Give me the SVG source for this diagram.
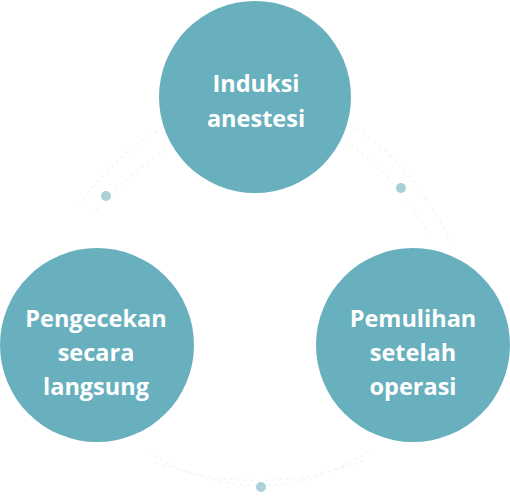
<svg xmlns="http://www.w3.org/2000/svg" width="510" height="503" viewBox="0 0 510 503">
<style>
.node{fill:#68b0be}
.lbl{fill:#ffffff;font-family:"Open Sans",Lato,sans-serif;font-weight:700;font-size:23.5px;text-anchor:middle}
.arc{fill:none;stroke:#f2f2f2;stroke-width:1.2;stroke-dasharray:3 4}
.dot{fill:#a8d2d6}
</style>
<rect width="510" height="503" fill="#ffffff"/>
<g id="connectors">
<path class="arc" d="M163,127 Q110,160 78,206"/>
<path class="arc" d="M172,145 Q125,175 92,215"/>
<path class="arc" d="M350,125 Q410,160 450,240"/>
<path class="arc" d="M345,140 Q395,175 430,235"/>
<path class="arc" d="M148,452 Q260,520 372,450"/>
<path class="arc" d="M155,462 Q260,500 365,460"/>
<circle class="dot" cx="106" cy="196" r="5"/>
<circle class="dot" cx="401" cy="188" r="5"/>
<circle class="dot" cx="261" cy="487" r="5"/>
</g>
<g id="n1">
<circle class="node" cx="255" cy="97" r="96"/>
<text class="lbl" x="256" y="92">Induksi</text>
<text class="lbl" x="256" y="127">anestesi</text>
</g>
<g id="n2">
<circle class="node" cx="97" cy="345" r="97"/>
<text class="lbl" x="96" y="327">Pengecekan</text>
<text class="lbl" x="96" y="361">secara</text>
<text class="lbl" x="96" y="395">langsung</text>
</g>
<g id="n3">
<circle class="node" cx="413" cy="345" r="97"/>
<text class="lbl" x="413" y="327">Pemulihan</text>
<text class="lbl" x="413" y="361">setelah</text>
<text class="lbl" x="413" y="395">operasi</text>
</g>
</svg>
